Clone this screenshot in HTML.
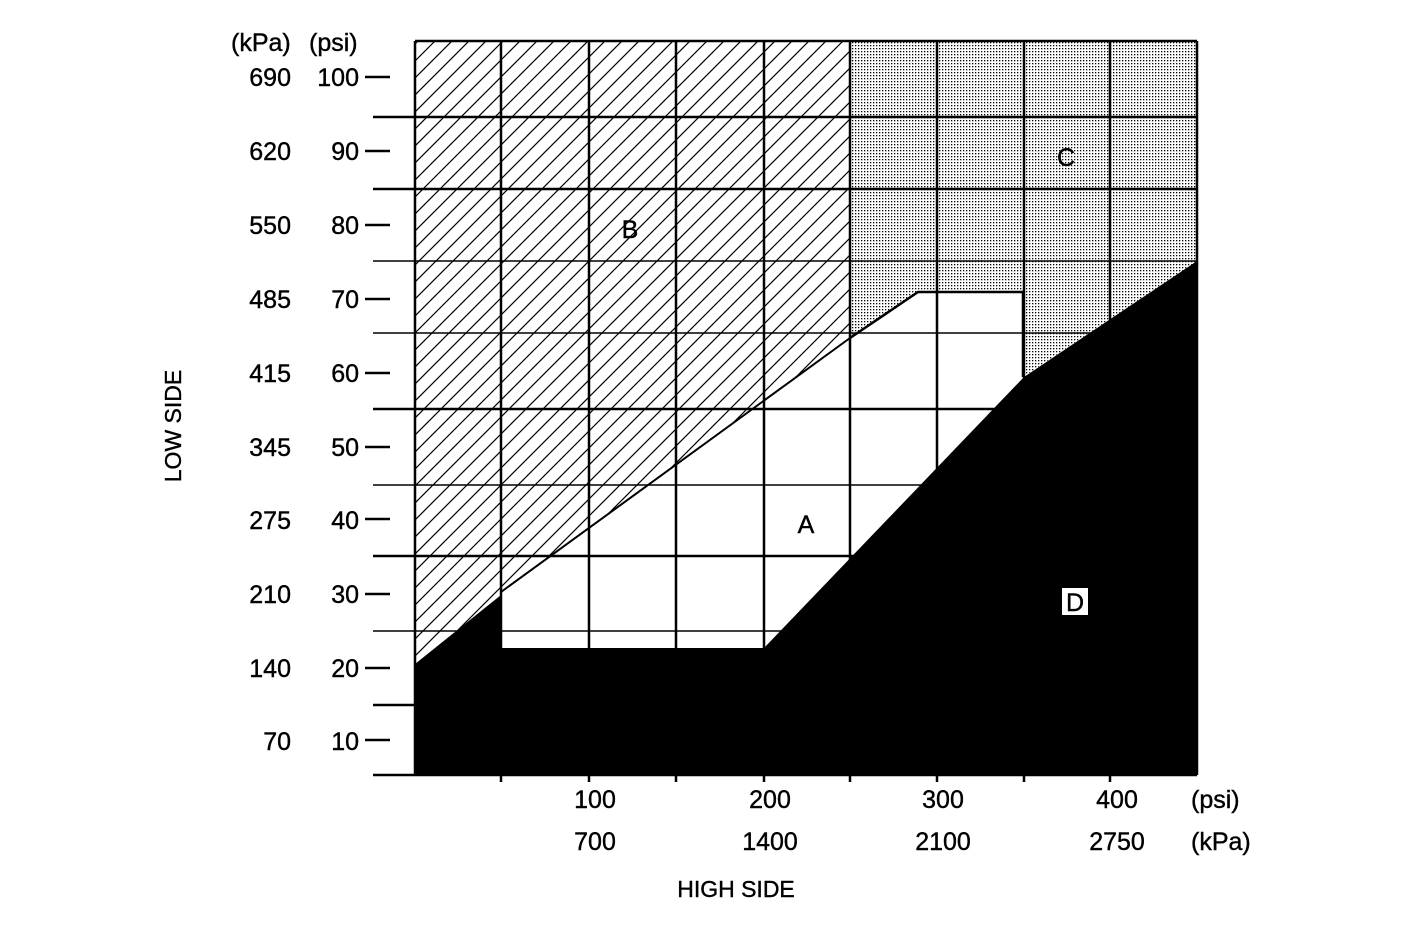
<!DOCTYPE html>
<html><head><style>body{margin:0;background:#fff}svg{display:block}text{font-family:"Liberation Sans",sans-serif;font-size:25px;fill:#000;stroke:#000;stroke-width:0.4}</style></head><body>
<svg width="1426" height="933" viewBox="0 0 1426 933" xmlns="http://www.w3.org/2000/svg">
<defs>
<pattern id="h" patternUnits="userSpaceOnUse" width="17" height="17"><path d="M-2,19 L19,-2 M-2,2 L2,-2 M15,19 L19,15" stroke="#000" stroke-width="1.2"/></pattern>
<pattern id="d" patternUnits="userSpaceOnUse" width="3" height="3"><rect width="3" height="3" fill="#fff"/><rect width="1.3" height="1.3" fill="#000"/></pattern>
</defs>
<polygon points="415,41 850,41 850,338 501,592 501,595 415,664" fill="url(#h)"/>
<polygon points="850,41 1197,41 1197,261 1023,377 1023,292 918,292 850,338" fill="url(#d)"/>
<polyline points="850,338 918,292 1023,292 1023,377" fill="none" stroke="#000" stroke-width="2.5"/>
<line x1="501" y1="592" x2="850" y2="338" stroke="#000" stroke-width="2"/>
<g stroke="#000" stroke-width="2.5">
<line x1="415" y1="41" x2="1197" y2="41"/>
<line x1="373" y1="117" x2="1197" y2="117"/>
<line x1="373" y1="189" x2="1197" y2="189"/>
<line x1="373" y1="261" x2="1197" y2="261" stroke-width="1.5"/>
<line x1="373" y1="333" x2="1197" y2="333" stroke-width="1.5"/>
<line x1="373" y1="409" x2="1197" y2="409"/>
<line x1="373" y1="485" x2="1197" y2="485" stroke-width="1.5"/>
<line x1="373" y1="556" x2="1197" y2="556"/>
<line x1="373" y1="631" x2="1197" y2="631" stroke-width="1.5"/>
<line x1="373" y1="705" x2="415" y2="705"/>
<line x1="373" y1="775" x2="1197" y2="775"/>
<line x1="415" y1="41" x2="415" y2="775"/>
<line x1="501" y1="41" x2="501" y2="782"/>
<line x1="589" y1="41" x2="589" y2="782"/>
<line x1="676" y1="41" x2="676" y2="782"/>
<line x1="764" y1="41" x2="764" y2="782"/>
<line x1="850" y1="41" x2="850" y2="782"/>
<line x1="937" y1="41" x2="937" y2="782"/>
<line x1="1024" y1="41" x2="1024" y2="782"/>
<line x1="1110" y1="41" x2="1110" y2="782"/>
<line x1="1197" y1="41" x2="1197" y2="775"/>
<line x1="365" y1="77" x2="390" y2="77"/><line x1="365" y1="151" x2="390" y2="151"/><line x1="365" y1="225" x2="390" y2="225"/><line x1="365" y1="299" x2="390" y2="299"/><line x1="365" y1="373" x2="390" y2="373"/><line x1="365" y1="447" x2="390" y2="447"/><line x1="365" y1="519" x2="390" y2="519"/><line x1="365" y1="594" x2="390" y2="594"/><line x1="365" y1="668" x2="390" y2="668"/><line x1="365" y1="740" x2="390" y2="740"/>
</g>
<polygon points="415,664 501,595 501,648 764,648 1024,377 1197,261 1197,775 415,775" fill="#000"/>
<rect x="1062" y="588" width="26" height="27" fill="#fff"/>
<text x="1075" y="611" text-anchor="middle">D</text>
<text x="630" y="238" text-anchor="middle">B</text>
<text x="1066" y="166" text-anchor="middle">C</text>
<text x="806" y="533" text-anchor="middle">A</text>
<text x="231" y="51">(kPa)</text><text x="309" y="51">(psi)</text>
<g text-anchor="end">
<text x="291" y="86">690</text><text x="359" y="86">100</text>
<text x="291" y="160">620</text><text x="359" y="160">90</text>
<text x="291" y="234">550</text><text x="359" y="234">80</text>
<text x="291" y="308">485</text><text x="359" y="308">70</text>
<text x="291" y="382">415</text><text x="359" y="382">60</text>
<text x="291" y="456">345</text><text x="359" y="456">50</text>
<text x="291" y="529">275</text><text x="359" y="529">40</text>
<text x="291" y="603">210</text><text x="359" y="603">30</text>
<text x="291" y="677">140</text><text x="359" y="677">20</text>
<text x="291" y="750">70</text><text x="359" y="750">10</text>
</g>
<g text-anchor="middle">
<text x="595" y="808">100</text><text x="770" y="808">200</text><text x="943" y="808">300</text><text x="1117" y="808">400</text>
<text x="595" y="850">700</text><text x="770" y="850">1400</text><text x="943" y="850">2100</text><text x="1117" y="850">2750</text>
<text x="736" y="897" style="font-size:23px">HIGH SIDE</text>
</g>
<text x="1191" y="808">(psi)</text><text x="1191" y="850">(kPa)</text>
<text transform="translate(181,426) rotate(-90)" text-anchor="middle" style="font-size:23px">LOW SIDE</text>
</svg>
</body></html>
